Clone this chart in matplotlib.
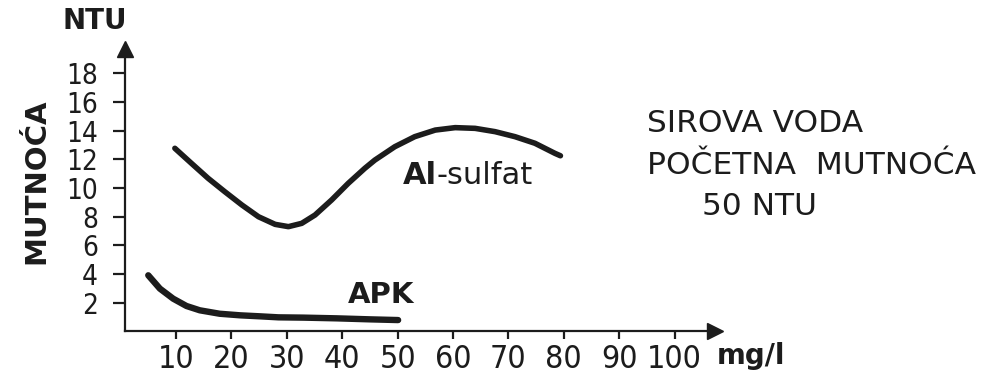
import matplotlib
matplotlib.use("Agg")
import matplotlib.pyplot as plt

# Residual turbidity (NTU) vs. coagulant dose (mg/l)
dose_al = [9.8, 12.8, 15.8, 18.8, 21.9, 24.9, 27.9, 30.3, 32.7, 35.1, 38.1, 41.1,
           44.1, 45.9, 49.5, 53.1, 56.8, 60.4, 64.0, 67.6, 71.2, 74.8, 78.4, 79.4]
ntu_al = [12.76, 11.71, 10.67, 9.74, 8.81, 7.99, 7.46, 7.30, 7.53, 8.11, 9.16, 10.32,
          11.37, 11.94, 12.87, 13.57, 14.03, 14.20, 14.15, 13.92, 13.57, 13.11, 12.41, 12.24]

dose_apk = [5.0, 7.1, 9.5, 11.9, 14.3, 17.9, 21.6, 25.2, 28.5, 33.0, 39.0, 45.0, 50.1]
ntu_apk = [3.91, 2.98, 2.28, 1.77, 1.47, 1.23, 1.12, 1.05, 0.98, 0.96, 0.91, 0.84, 0.79]

x_ticks = [10, 20, 30, 40, 50, 60, 70, 80, 90, 100]
y_ticks = [2, 4, 6, 8, 10, 12, 14, 16, 18]

INK = "#1c1c1c"
W, H = 983, 387

label_font = dict(family="DejaVu Sans", stretch="condensed")
bold_font = dict(family="DejaVu Sans", weight="bold")
text_font = dict(family="DejaVu Sans", weight="normal")

fig = plt.figure(figsize=(W / 100, H / 100), dpi=100)
fig.patch.set_facecolor("white")

# axes box in pixels: left 125, right 715, bottom 331.4, top 49
x0, x1, y0, y1 = 125, 715, 331.4, 49
ax = fig.add_axes([x0 / W, 1 - y0 / H, (x1 - x0) / W, (y0 - y1) / H])
ax.set_xlim(0.8, 107.3)
ax.set_ylim(0, 19.68)

ax.plot(dose_al, ntu_al, color=INK, lw=4.0, solid_capstyle="round", solid_joinstyle="round")
ax.plot(dose_apk, ntu_apk, color=INK, lw=4.6, solid_capstyle="round", solid_joinstyle="round")

for side in ("top", "right"):
    ax.spines[side].set_visible(False)
for side in ("left", "bottom"):
    ax.spines[side].set_linewidth(1.6)
    ax.spines[side].set_color(INK)

# arrow heads at the axis ends
ax.plot(1, 0, marker=">", ms=11, color=INK, transform=ax.transAxes, clip_on=False)
ax.plot(0, 1, marker="^", ms=11, color=INK, transform=ax.transAxes, clip_on=False)

ax.set_xticks(x_ticks)
ax.set_yticks(y_ticks)
ax.set_xticklabels([str(v) for v in x_ticks], fontsize=23, color=INK, **label_font)
ax.set_yticklabels([str(v) for v in y_ticks], fontsize=20, color=INK, **label_font)
ax.tick_params(axis="x", direction="out", length=6, width=1.6, pad=3, colors=INK)
ax.tick_params(axis="y", direction="out", length=8.5, width=1.6, pad=11, colors=INK)


def ftext(px, py, s, **kw):
    fig.text(px / W, 1 - py / H, s, **kw)


ftext(95, 21, "NTU", ha="center", va="center", fontsize=20, color=INK, **bold_font)
ftext(36, 181, "MUTNOĆA", ha="center", va="center", rotation=90, fontsize=21, color=INK, **bold_font)
ftext(403, 175, "Al", ha="left", va="center", fontsize=22, color=INK, **bold_font)
ftext(436, 175, "-sulfat", ha="left", va="center", fontsize=22, color=INK, **text_font)
ftext(381, 295, "APK", ha="center", va="center", fontsize=21, color=INK, **bold_font)
ftext(717, 356, "mg/l", ha="left", va="center", fontsize=20, color=INK, **bold_font)

ftext(647, 124, "SIROVA VODA", ha="left", va="center", fontsize=22.5, color=INK, **text_font)
ftext(647, 166, "POČETNA  MUTNOĆA", ha="left", va="center", fontsize=22.5, color=INK, **text_font)
ftext(702, 207, "50 NTU", ha="left", va="center", fontsize=22.5, color=INK, **text_font)

fig.savefig("out.png", dpi=100, facecolor="white")
